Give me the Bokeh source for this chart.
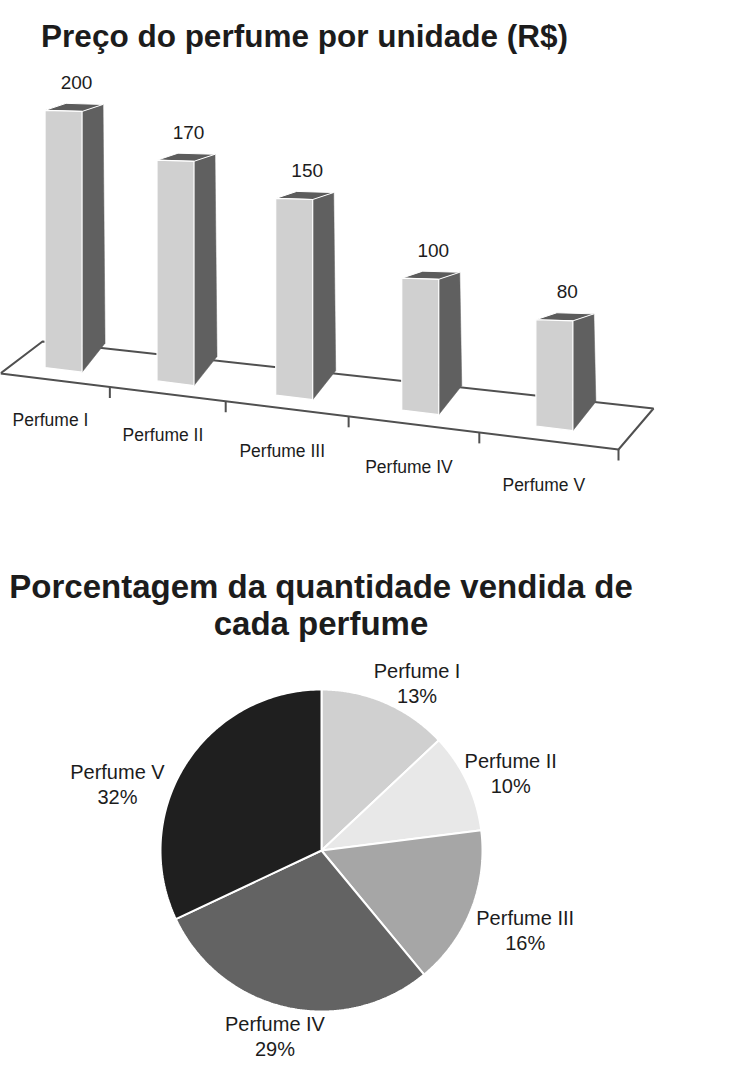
import numpy as np
from bokeh.plotting import figure
from bokeh.models import Range1d
from bokeh.core.properties import value
from bokeh.embed import file_html
from bokeh.resources import INLINE

# ---------------- data ----------------
bar_title = "Preço do perfume por unidade (R$)"
categories = ["Perfume I", "Perfume II", "Perfume III", "Perfume IV", "Perfume V"]
prices = [200, 170, 150, 100, 80]

pie_title_lines = ["Porcentagem da quantidade vendida de", "cada perfume"]
pie_labels = ["Perfume I", "Perfume II", "Perfume III", "Perfume IV", "Perfume V"]
shares = [13, 10, 16, 29, 32]

# ---------------- style / layout ----------------
FONT = value("Liberation Sans")
TXT = "#1c1c1c"
FRONT_COL = "#d0d0d0"
SIDE_COL = "#606060"
TOP_COL = "#5c5c5c"
FLOOR_COL = "#505050"
PIE_COLS = ["#d0d0d0", "#e8e8e8", "#a6a6a6", "#636363", "#1f1f1f"]
BASE_FIX = 0.4  # baseline correction (fraction of font size)

W, H = 753, 1073
p = figure(width=W, height=H, x_range=Range1d(0, W), y_range=Range1d(H, 0),
           output_backend="svg", toolbar_location=None, min_border=0,
           x_axis_type=None, y_axis_type=None)
p.grid.visible = False
p.outline_line_color = None


def label(xs, ys, texts, fs, bold=False):
    p.text(list(xs), [y - BASE_FIX * fs for y in ys], text=list(texts), text_font=FONT,
           text_font_size=f"{fs}px", text_font_style="bold" if bold else "normal",
           text_color=TXT, text_align="center", text_baseline="alphabetic")


# ---- pseudo-3D projection of the bar chart floor ----
P00 = np.array([0.0, 373.0])
P10 = np.array([618.0, 449.0])
P11 = np.array([653.0, 408.0])
P01 = np.array([42.0, 341.0])
Q = -0.14
n = len(categories)


def phi(u):
    s = u / n
    return (1 + Q) * s / (1 + Q * s)


def floor_pt(u, z):
    f = phi(u)
    front = P00 + f * (P10 - P00)
    back = P01 + f * (P11 - P01)
    return front + z * (back - front)


def kscale(u):
    return 1.2886 + 0.01375 * u


# floor outline
corners = [floor_pt(0, 0), floor_pt(n, 0), floor_pt(n, 1), floor_pt(0, 1), floor_pt(0, 0)]
p.line([c[0] for c in corners], [c[1] for c in corners], line_color=FLOOR_COL, line_width=2)

# ticks on front edge
tx, ty = [], []
for u in range(1, n + 1):
    c = floor_pt(u, 0)
    tx.append([c[0], c[0]])
    ty.append([c[1], c[1] + 11])
p.multi_line(tx, ty, line_color=FLOOR_COL, line_width=2)

# category labels
lx, ly = [], []
for i, cat in enumerate(categories):
    c = floor_pt(i + 0.5, 0)
    lx.append(c[0] - 4)
    ly.append(c[1] + 47 + i)
label(lx, ly, categories, 17.5)

# bars
ZB = 0.3
HALF = 18.5
BOT_SLOPE = 0.125
TOP_SLOPE = 0.03
DB = np.array([23.0, -29.0])
DT = np.array([21.0, -7.0])

fxs, fys, sxs, sys_, txs, tys = [], [], [], [], [], []
vx, vy = [], []
for i, v in enumerate(prices):
    uc = i + 0.47
    c = floor_pt(uc, ZB)
    h = v * kscale(uc)
    bl = c + np.array([-HALF, -HALF * BOT_SLOPE])
    br = c + np.array([HALF, HALF * BOT_SLOPE])
    tc = c - np.array([0.0, h])
    tl = tc + np.array([-HALF, -HALF * TOP_SLOPE])
    tr = tc + np.array([HALF, HALF * TOP_SLOPE])
    front = [bl, br, tr, tl]
    side = [br, br + DB, tr + DT, tr]
    top = [tl, tr, tr + DT, tl + DT]
    fxs.append([q[0] for q in front]); fys.append([q[1] for q in front])
    sxs.append([q[0] for q in side]); sys_.append([q[1] for q in side])
    txs.append([q[0] for q in top]); tys.append([q[1] for q in top])
    vx.append(c[0] + 13)
    vy.append(tc[1] - 21)

p.patches(sxs, sys_, fill_color=SIDE_COL, line_color=SIDE_COL, line_width=0.5)
p.patches(txs, tys, fill_color=TOP_COL, line_color="white", line_width=1)
p.patches(fxs, fys, fill_color=FRONT_COL, line_color="white", line_width=1.2)

label(vx, vy, [str(v) for v in prices], 19)

# bar chart title
label([304], [48], [bar_title], 31.5, bold=True)

# ---------------- pie ----------------
CX, CY, R = 321.0, 850.0, 161.0
cum = np.concatenate([[0], np.cumsum(shares)]) / 100.0 * 2 * np.pi
pxs, pys = [], []
for k in range(len(shares)):
    ang = np.linspace(cum[k], cum[k + 1], 120)
    pxs.append([CX] + list(CX + R * np.sin(ang)))
    pys.append([CY] + list(CY - R * np.cos(ang)))
p.patches(pxs, pys, fill_color=PIE_COLS, line_color="white", line_width=2)

NUDGE = [(9, 2), (-8, 0), (1, 7), (1, -1), (-20, 31)]
l1x, l1y, l2y = [], [], []
for k in range(len(shares)):
    mid = 0.5 * (cum[k] + cum[k + 1])
    ax = CX + 218 * np.sin(mid) + NUDGE[k][0]
    ay = CY + 5 - 188 * np.cos(mid) + NUDGE[k][1]
    l1x.append(ax); l1y.append(ay - 6); l2y.append(ay + 19)
label(l1x, l1y, pie_labels, 20)
label(l1x, l2y, [f"{s}%" for s in shares], 20)

# pie title
label([320.5, 320.5], [599, 636], pie_title_lines, 33, bold=True)

open("out.html", "w").write(file_html(p, INLINE))
